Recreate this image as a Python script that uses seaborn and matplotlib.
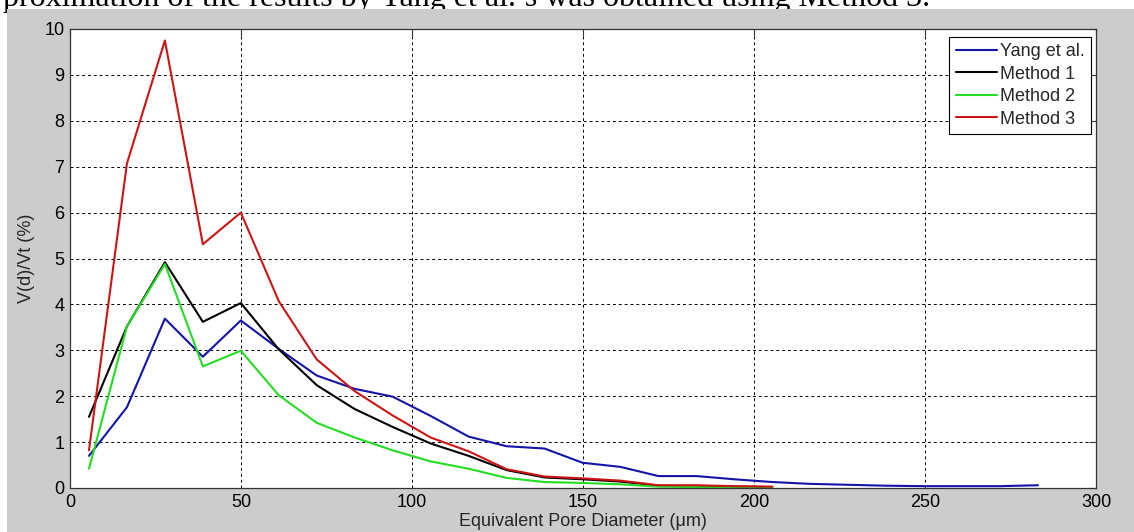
import numpy as np
import pandas as pd
import matplotlib
matplotlib.use("Agg")
import matplotlib.pyplot as plt
import seaborn as sns
from matplotlib.patches import Rectangle

# ---------------- Data ----------------
x_yang = [5.55, 16.65, 27.75, 38.85, 49.95, 61.05, 72.15, 83.25, 94.35, 105.45,
          116.55, 127.65, 138.75, 149.85, 160.95, 172.05, 183.15, 194.25, 205.35,
          216.45, 227.55, 238.65, 249.75, 260.85, 271.95, 283.05]
yang = [0.70, 1.76, 3.69, 2.86, 3.65, 3.03, 2.45, 2.16, 1.99, 1.57,
        1.12, 0.91, 0.86, 0.55, 0.46, 0.26, 0.26, 0.19, 0.13,
        0.09, 0.07, 0.05, 0.04, 0.04, 0.04, 0.06]

x_methods = x_yang[:19]
method1 = [1.55, 3.52, 4.92, 3.62, 4.03, 3.02, 2.24, 1.72, 1.33, 0.97,
           0.70, 0.39, 0.23, 0.19, 0.14, 0.05, 0.04, 0.03, 0.02]
method2 = [0.42, 3.52, 4.88, 2.65, 2.99, 2.02, 1.42, 1.10, 0.82, 0.58,
           0.42, 0.22, 0.13, 0.11, 0.08, 0.03, 0.02, 0.01, 0.01]
method3 = [0.82, 7.07, 9.75, 5.31, 6.00, 4.07, 2.80, 2.11, 1.58, 1.10,
           0.80, 0.41, 0.25, 0.21, 0.16, 0.06, 0.06, 0.04, 0.03]

series_names = ["Yang et al.", "Method 1", "Method 2", "Method 3"]
colors = {"Yang et al.": "#1414a8", "Method 1": "#000000",
          "Method 2": "#22dd22", "Method 3": "#cc1414"}

df = pd.concat([
    pd.DataFrame({"d": x_yang, "v": yang, "series": "Yang et al."}),
    pd.DataFrame({"d": x_methods, "v": method1, "series": "Method 1"}),
    pd.DataFrame({"d": x_methods, "v": method2, "series": "Method 2"}),
    pd.DataFrame({"d": x_methods, "v": method3, "series": "Method 3"}),
], ignore_index=True)

# ---------------- Style ----------------
sns.set_style("white")
plt.rcParams["font.family"] = ["Liberation Sans", "DejaVu Sans"]
plt.rcParams["font.size"] = 13

W, H = 1134, 532
fig = plt.figure(figsize=(W / 100, H / 100), dpi=100, facecolor="white")

# caption line of the page above the figure, cut off by the crop as in the source
fig.text(3 / W, 1 - 6 / H,
         "proximation of the results by Yang et al.\u2019s was obtained using Method 3.",
         family=["Liberation Serif", "DejaVu Serif"], fontsize=23,
         va="baseline", ha="left", color="black", zorder=0)

# grey figure window
fig.patches.append(Rectangle((7 / W, 0), 1, (H - 9) / H, transform=fig.transFigure,
                             facecolor="#cccccc", edgecolor="none", zorder=1))

ax = fig.add_axes([70 / W, (H - 488) / H, 1026 / W, 459 / H])
ax.set_facecolor("white")
ax.set_zorder(2)

sns.lineplot(data=df, x="d", y="v", hue="series", hue_order=series_names,
             palette=colors, sort=False, estimator=None, linewidth=1.5, ax=ax)

ax.set_xlim(0, 300)
ax.set_ylim(0, 10)
ax.set_xticks(np.arange(0, 301, 50))
ax.set_yticks(np.arange(0, 11, 1))
ax.grid(True, color="black", linestyle=(0, (3, 3)), linewidth=0.7)

for s in ax.spines.values():
    s.set_visible(True)
    s.set_color("#333333")
    s.set_linewidth(0.9)
ax.tick_params(direction="in", length=5, width=0.8, color="#333333",
               top=True, right=True, labelsize=13, pad=4, labelcolor="black")

ax.set_xlabel("Equivalent Pore Diameter (\u03bcm)", fontsize=13)
ax.set_ylabel("V(d)/Vt (%)", fontsize=13)
ax.xaxis.set_label_coords(0.5, -0.054)
ax.yaxis.set_label_coords(-0.034, 0.5)

leg = ax.legend(loc="upper right", bbox_to_anchor=(0.9951, 0.9826), borderaxespad=0,
                fancybox=False, framealpha=1, edgecolor="black", fontsize=13,
                handlelength=2.3, handletextpad=0.15, labelspacing=0.3, borderpad=0.35)
leg.get_frame().set_linewidth(0.8)

fig.savefig("out.png", dpi=100, facecolor=fig.get_facecolor())
